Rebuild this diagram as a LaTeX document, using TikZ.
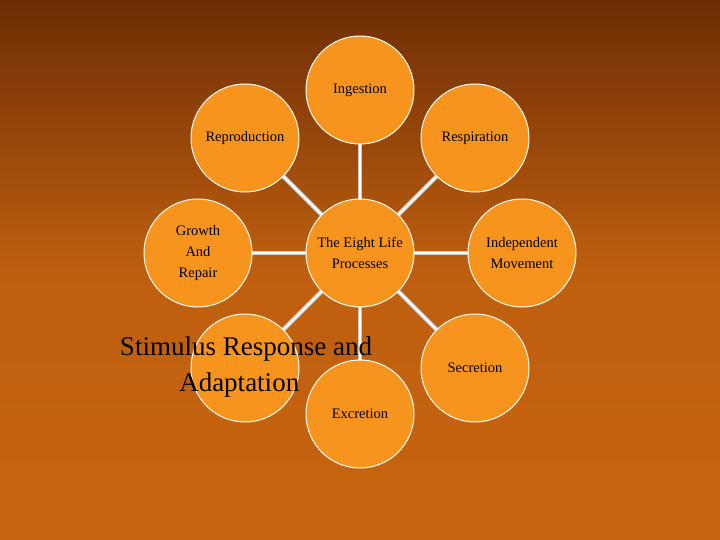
\documentclass[tikz,border=0pt]{standalone}
\usepackage{fontspec}
\setmainfont{Liberation Serif}
\begin{document}
\begin{tikzpicture}[x=1pt,y=-1pt,
  circ/.style={circle,draw=white,line width=1pt,fill={rgb,255:red,247;green,148;blue,30},minimum size=108pt,inner sep=0pt,align=center,font=\fontsize{14.5}{21}\selectfont},
  conn/.style={draw={rgb,255:red,200;green,200;blue,200},line width=4.5pt}]
\shade[top color={rgb,255:red,110;green,45;blue,5},bottom color={rgb,255:red,200;green,100;blue,15},middle color={rgb,255:red,190;green,95;blue,15}] (0,0) rectangle (720,540);
\useasboundingbox (0,0) rectangle (720,540);
\coordinate (c) at (360,253);
\foreach \n/\x/\y in {i/360/90,r/475/138,m/522/253,s/475/368,e/360/414,t/245/368,g/198/253,p/245/138}{
  \coordinate (\n) at (\x,\y);
  \draw[conn] (c) -- (\n);
  \draw[draw=white,line width=2pt] (c) -- (\n);
}
\node[circ] (ci) at (i) {Ingestion};
\node[circ] (cr) at (r) {Respiration};
\node[circ] (cm) at (m) {Independent\\Movement};
\node[circ] (cs) at (s) {Secretion};
\node[circ] (ce) at (e) {Excretion};
\node[circ] (ct) at (t) {};
\node[circ] (cg) at (g) {Growth\\And\\Repair};
\node[circ] (cp) at (p) {Reproduction};
\node[circ] (cc) at (c) {The Eight Life\\Processes};
\node[align=center,font=\fontsize{27}{36}\selectfont] (st) at (246,367) {Stimulus Response and\\Adaptation\phantom{n}};
\end{tikzpicture}
\end{document}
